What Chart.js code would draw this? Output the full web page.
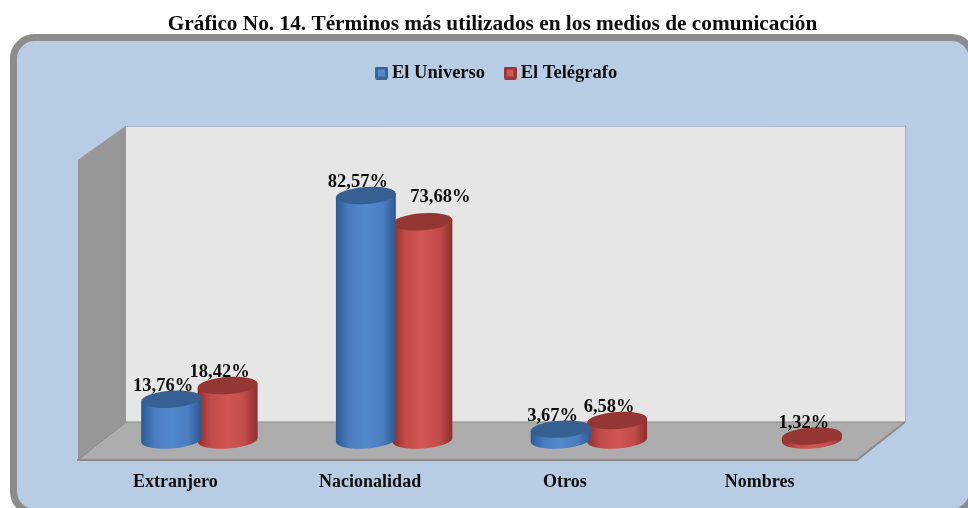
<!DOCTYPE html>
<html><head><meta charset="utf-8">
<style>html,body{margin:0;padding:0;background:#fff}#w{width:968px;height:508px;overflow:hidden}</style>
<script src="https://cdn.jsdelivr.net/npm/chart.js@4"></script></head>
<body><div id="w"><canvas id="c" width="968" height="508"></canvas></div>
<script>
const categories = ["Extranjero", "Nacionalidad", "Otros", "Nombres"];
const seriesNames = ["El Universo", "El Telégrafo"];
const universo = [13.76, 82.57, 3.67, null];
const telegrafo = [18.42, 73.68, 6.58, 1.32];
const titleText = "Gráfico No. 14. Términos más utilizados en los medios de comunicación";
const serif = "'Liberation Serif','Times New Roman',serif";

const palette = [
  {edge:"#2c5a92", soft:"#4a7dbf", mid:"#5489cd", top:"#366092", line:"#376499"},
  {edge:"#8c2e2c", soft:"#c24b49", mid:"#d15553", top:"#943634", line:"#963836"}
];
function legendSwatch(p){
  const c=document.createElement('canvas');c.width=13;c.height=13;
  const x=c.getContext('2d');
  x.fillStyle=p.line;x.beginPath();x.roundRect(0,0,13,13,2);x.fill();
  x.fillStyle=p.mid;x.fillRect(3,3,7,7);
  return c;
}
const swatches=palette.map(legendSwatch);

const DX=48, BACK=18, FRONT_BOTTOM=20, FRONT_TOP=16, RY=8.5, TILT=-0.07, BAR_SHIFT=24, RX_EXTRA=1.8;

function poly(ctx,pts,fill){
  ctx.beginPath();pts.forEach((p,i)=>i?ctx.lineTo(p[0],p[1]):ctx.moveTo(p[0],p[1]));ctx.closePath();
  ctx.fillStyle=fill;ctx.fill();
}
function cylinder(ctx,cx,top,base,rx,p){
  const g=ctx.createLinearGradient(cx-rx,0,cx+rx,0);
  g.addColorStop(0,p.edge);g.addColorStop(.22,p.soft);g.addColorStop(.5,p.mid);g.addColorStop(.78,p.soft);g.addColorStop(1,p.edge);
  const sx=rx*Math.cos(TILT), sy=rx*Math.sin(TILT);
  ctx.beginPath();
  ctx.moveTo(cx-sx,top-sy);
  ctx.lineTo(cx-sx,base-sy);
  ctx.ellipse(cx,base,rx,RY,TILT,Math.PI,0,true);
  ctx.lineTo(cx+sx,top+sy);
  ctx.closePath();
  ctx.fillStyle=g;ctx.fill();
  ctx.beginPath();ctx.ellipse(cx,top,rx,RY,TILT,0,Math.PI*2);
  ctx.fillStyle=p.top;ctx.fill();
}
const scene={
  id:'scene',
  afterLayout(chart){
    const t=chart.titleBlock,l=chart.legend;
    const th=t.height;t.top=24-th/2;t.bottom=t.top+th;t.left=17;t.right=968;
    const pad=l.options.labels.padding;
    const ih=l.legendHitBoxes[0].height;
    const h=l.height;l.top=73-pad-ih/2;l.bottom=l.top+h;
    const w=l.right-l.left;l.left=380.25-pad;l.right=l.left+w;
  },
  beforeDraw(chart){
    const ctx=chart.ctx,a=chart.chartArea,y=chart.scales.y;
    ctx.save();
    ctx.fillStyle='#fff';ctx.fillRect(0,0,chart.width,chart.height);
    ctx.beginPath();ctx.roundRect(13.5,37.5,959,475,21);
    ctx.fillStyle='#b8cce4';ctx.fill();ctx.strokeStyle='#8c8c8c';ctx.lineWidth=7;ctx.stroke();
    const L=a.left,R=a.right,yt=y.getPixelForValue(100),y0=y.getPixelForValue(0);
    const bt=yt-BACK,bb=y0-BACK,fb=y0+FRONT_BOTTOM,ft=yt+FRONT_TOP;
    poly(ctx,[[L+DX,bt],[R+DX,bt],[R+DX,bb],[L+DX,bb]],'#e6e6e6');
    ctx.strokeStyle='#a3b1c2';ctx.lineWidth=1;
    ctx.beginPath();ctx.moveTo(L+DX,bt+.5);ctx.lineTo(R+DX+.5,bt+.5);ctx.lineTo(R+DX+.5,bb);ctx.stroke();
    poly(ctx,[[L,ft],[L+DX,bt],[L+DX,bb],[L,fb]],'#979797');
    poly(ctx,[[L,fb],[L+DX,bb],[R+DX,bb],[R,fb]],'#adadad');
    ctx.strokeStyle='#8a8a8a';ctx.lineWidth=2;
    ctx.beginPath();ctx.moveTo(L-1,fb);ctx.lineTo(R,fb);ctx.lineTo(R+DX,bb);ctx.stroke();
    ctx.lineWidth=1;ctx.beginPath();ctx.moveTo(L,fb);ctx.lineTo(L+DX,bb);ctx.lineTo(R+DX,bb);ctx.stroke();
    ctx.restore();
  },
  beforeDatasetDraw(chart,args){
    const ctx=chart.ctx,meta=chart.getDatasetMeta(args.index);
    ctx.save();
    meta.data.forEach((bar,i)=>{
      if(chart.data.datasets[args.index].data[i]==null)return;
      cylinder(ctx,bar.x+BAR_SHIFT,bar.y,bar.base,bar.width/2+RX_EXTRA,palette[args.index]);
    });
    ctx.restore();
    return false;
  },
  afterDatasetsDraw(chart){
    const ctx=chart.ctx;
    ctx.save();
    ctx.font="bold 18.5px "+serif;ctx.fillStyle='#0d0d0d';ctx.textAlign='center';ctx.textBaseline='middle';
    chart.data.datasets.forEach((ds,d)=>{
      chart.getDatasetMeta(d).data.forEach((bar,i)=>{
        const v=ds.data[i];if(v==null)return;
        const lifted=(v===73.68);
        const s=v.toFixed(2).replace('.',',')+'%';
        ctx.fillText(s,bar.x+BAR_SHIFT+(lifted?18:-8),bar.y+(lifted?-25:-13));
      });
    });
    ctx.restore();
  }
};
new Chart(document.getElementById('c'),{
  type:'bar',
  data:{labels:categories,datasets:[
    {label:seriesNames[0],data:universo,backgroundColor:palette[0].mid},
    {label:seriesNames[1],data:telegrafo,backgroundColor:palette[1].mid}
  ]},
  plugins:[scene],
  options:{
    responsive:false,animation:false,
    layout:{padding:{left:78,right:111,top:70,bottom:0}},
    datasets:{bar:{categoryPercentage:.58,barPercentage:1}},
    plugins:{
      tooltip:{enabled:false},
      title:{display:true,text:titleText,color:'#0d0d0d',padding:0,font:{family:serif,size:21.3,weight:'bold',lineHeight:1}},
      legend:{display:true,position:'top',align:'start',labels:{
        usePointStyle:true,boxWidth:2.5,boxHeight:13,padding:24,color:'#0d0d0d',
        font:{family:serif,size:18.5,weight:'bold'},
        generateLabels(chart){
          return Chart.defaults.plugins.legend.labels.generateLabels(chart).map((it,i)=>Object.assign(it,{pointStyle:swatches[i]}));
        }
      }}
    },
    scales:{
      x:{grid:{display:false},border:{display:false},afterFit(s){s.height=68;},
        ticks:{padding:24,color:'#0d0d0d',font:{family:serif,size:18,weight:'bold'},maxRotation:0}},
      y:{display:false,min:0,max:100}
    }
  }
});
</script></body></html>
